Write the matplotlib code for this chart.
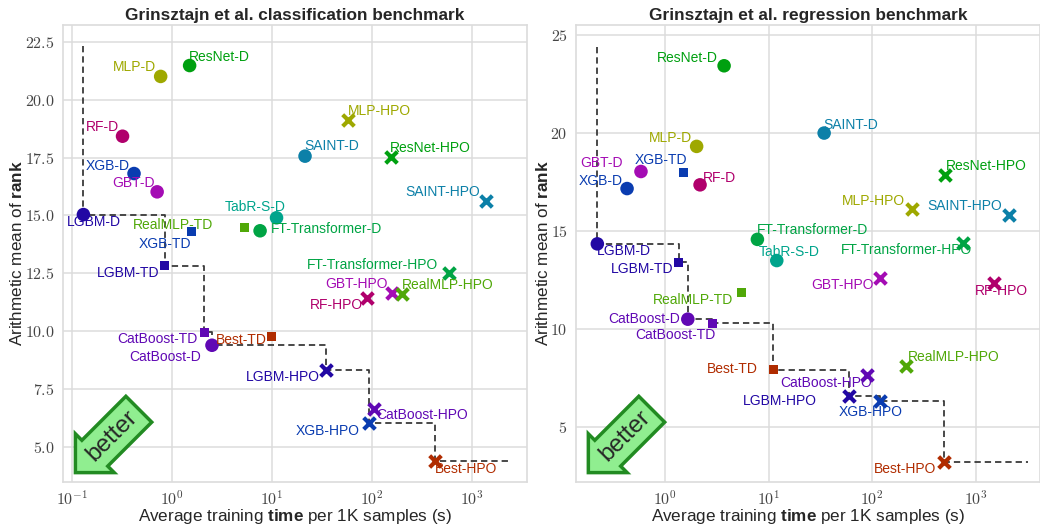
import numpy as np
import matplotlib
matplotlib.use("Agg")
import matplotlib.pyplot as plt
from matplotlib.ticker import FuncFormatter, LogLocator, NullLocator, FixedLocator

plt.rcParams['font.family'] = ['Liberation Sans', 'DejaVu Sans']
plt.rcParams['mathtext.fontset'] = 'cm'
plt.rcParams['mathtext.rm'] = 'Liberation Sans'
plt.rcParams['mathtext.bf'] = 'Liberation Sans:bold'
plt.rcParams['mathtext.it'] = 'Liberation Sans:italic'

# ---------------- data ----------------
methods = ['MLP-D', 'ResNet-D', 'RF-D', 'XGB-D', 'GBT-D', 'LGBM-D', 'CatBoost-D',
           'SAINT-D', 'TabR-S-D', 'FT-Transformer-D',
           'RealMLP-TD', 'XGB-TD', 'LGBM-TD', 'CatBoost-TD', 'Best-TD',
           'MLP-HPO', 'ResNet-HPO', 'SAINT-HPO', 'FT-Transformer-HPO', 'GBT-HPO',
           'RealMLP-HPO', 'RF-HPO', 'LGBM-HPO', 'CatBoost-HPO', 'XGB-HPO', 'Best-HPO']

cls_time = [0.77, 1.5, 0.32, 0.417, 0.71, 0.13, 2.51,
            21.4, 11.1, 7.6,
            5.3, 1.56, 0.85, 2.09, 9.9,
            57, 154, 1370, 589, 157,
            201, 90, 34.7, 105, 94, 427]
cls_rank = [21.0, 21.47, 18.42, 16.81, 16.02, 15.04, 9.4,
            17.56, 14.9, 14.34,
            14.48, 14.3, 12.83, 9.97, 9.76,
            19.14, 17.53, 15.63, 12.53, 11.66,
            11.61, 11.42, 8.32, 6.67, 6.05, 4.41]

reg_time = [2.02, 3.72, 2.18, 0.43, 0.586, 0.222, 1.66,
            34.4, 12.0, 7.8,
            5.42, 1.5, 1.36, 2.86, 11.1,
            242, 507, 2075, 762, 118,
            214, 1486, 60.4, 89, 120, 489]
reg_rank = [19.32, 23.43, 17.36, 17.17, 18.04, 14.35, 10.51,
            20.0, 13.5, 14.58,
            11.85, 18.0, 13.42, 10.31, 7.92,
            16.12, 17.87, 15.82, 14.4, 12.62,
            8.14, 12.37, 6.6, 7.67, 6.34, 3.25]

titles = ['Grinsztajn et al. classification benchmark',
          'Grinsztajn et al. regression benchmark']

# ---------------- styling ----------------
family_colors = {
    'MLP': '#9ea800', 'ResNet': '#00a010', 'RF': '#b0006c', 'XGB': '#0a3cb0',
    'GBT': '#a40cb4', 'LGBM': '#2208a4', 'CatBoost': '#6008b4', 'SAINT': '#0c80a8',
    'TabR-S': '#00a48c', 'FT-Transformer': '#00a444', 'RealMLP': '#50a808',
    'Best': '#b02c00',
}

cls_offsets = {
    'ResNet-D': (30, 9), 'MLP-D': (-26, 9), 'RF-D': (-20, 9), 'XGB-D': (-26, 8),
    'GBT-D': (-24, 9), 'LGBM-D': (10, -7), 'MLP-HPO': (32, 9), 'SAINT-D': (27, 10),
    'ResNet-HPO': (40, 9), 'SAINT-HPO': (-43, 9), 'TabR-S-D': (-21, 11),
    'FT-Transformer-D': (66, 2), 'RealMLP-TD': (-71, 3), 'XGB-TD': (-26, -12),
    'LGBM-TD': (-37, -7), 'FT-Transformer-HPO': (-76, 8), 'GBT-HPO': (-35, 9),
    'RealMLP-HPO': (45, 9), 'RF-HPO': (-31, -7), 'CatBoost-TD': (-47, -7),
    'CatBoost-D': (-47, -12), 'Best-TD': (-30, -3), 'LGBM-HPO': (-43, -7),
    'CatBoost-HPO': (48, -6), 'XGB-HPO': (-42, -8), 'Best-HPO': (31, -8),
}
reg_offsets = {
    'ResNet-D': (-37, 8), 'SAINT-D': (27, 8), 'MLP-D': (-26, 8), 'GBT-D': (-39, 8),
    'XGB-TD': (-22, 12), 'XGB-D': (-26, 8), 'RF-D': (19, 7), 'ResNet-HPO': (41, 9),
    'MLP-HPO': (-38, 8), 'SAINT-HPO': (-44, 9), 'FT-Transformer-D': (55, 9),
    'FT-Transformer-HPO': (-57, -7), 'LGBM-D': (27, -7), 'TabR-S-D': (12, 9),
    'LGBM-TD': (-37, -7), 'GBT-HPO': (-37, -7), 'RF-HPO': (8, -8),
    'RealMLP-TD': (-48, -7), 'CatBoost-D': (-44, 0), 'CatBoost-TD': (-37, -12),
    'RealMLP-HPO': (47, 9), 'Best-TD': (-41, 1), 'CatBoost-HPO': (-41, -8),
    'LGBM-HPO': (-70, -5), 'XGB-HPO': (-10, -11), 'Best-HPO': (-38, -7),
}

panels = [
    dict(time=cls_time, rank=cls_rank, title=titles[0], offsets=cls_offsets,
         xlim=(10 ** -1.09, 10 ** 3.55), ylim=(3.5, 23.22), yfmt='{:.1f}',
         yticks=[5.0, 7.5, 10.0, 12.5, 15.0, 17.5, 20.0, 22.5], end_factor=1.67,
         ylabel_x=-0.081),
    dict(time=reg_time, rank=reg_rank, title=titles[1], offsets=reg_offsets,
         xlim=(10 ** -0.86, 10 ** 3.62), ylim=(2.21, 25.51), yfmt='{:.0f}',
         yticks=[5, 10, 15, 20, 25], end_factor=1.55,
         ylabel_x=-0.054),
]

fig = plt.figure(figsize=(10.4, 5.27), dpi=100)
axes_rects = [[0.0606, 0.0854, 0.4461, 0.8672], [0.5538, 0.0854, 0.4461, 0.8672]]

grid_c = '#dcdcdc'
for rect, p in zip(axes_rects, panels):
    ax = fig.add_axes(rect)
    ax.set_facecolor('white')
    ax.set_xscale('log')
    ax.set_xlim(*p['xlim'])
    ax.set_ylim(*p['ylim'])
    for s in ax.spines.values():
        s.set_color(grid_c)
        s.set_linewidth(1.2)
    ax.grid(True, color=grid_c, linewidth=1.1, zorder=0)
    ax.set_axisbelow(True)
    ax.xaxis.set_major_locator(LogLocator(base=10, numticks=10))
    ax.xaxis.set_minor_locator(NullLocator())
    ax.xaxis.set_major_formatter(FuncFormatter(
        lambda v, pos: '$10^{%d}$' % int(round(np.log10(v)))))
    ax.yaxis.set_major_locator(FixedLocator(p['yticks']))
    fmt = p['yfmt']
    ax.yaxis.set_major_formatter(FuncFormatter(lambda v, pos, f=fmt: '$' + f.format(v) + '$'))
    ax.tick_params(length=0, labelsize=11.5, labelcolor='#444444', pad=6)
    ax.tick_params(axis='x', pad=5)

    t = np.array(p['time'])
    r = np.array(p['rank'])

    # Pareto front (computed from data)
    order = np.argsort(t)
    ft, fr = [], []
    best = np.inf
    for i in order:
        if r[i] < best:
            best = r[i]
            ft.append(t[i])
            fr.append(r[i])
    xs = [ft[0]] + ft + [t.max() * p['end_factor']]
    ys = [r.max() * 1.04] + fr + [fr[-1]]
    ax.plot(xs, ys, drawstyle='steps-post', ls=(0, (3.5, 2.2)), color='#3a3a3a',
            lw=1.3, zorder=2)

    for name, ti, ri in zip(methods, t, r):
        fam, kind = name.rsplit('-', 1)
        c = family_colors[fam]
        if kind == 'D':
            ax.scatter([ti], [ri], s=95, marker='o', color=c, edgecolors='none', zorder=3)
        elif kind == 'TD':
            ax.scatter([ti], [ri], s=42, marker='s', color=c, edgecolors='none', zorder=3)
        else:
            ax.scatter([ti], [ri], s=70, marker='x', color=c, linewidths=3, zorder=3)
        dx, dy = p['offsets'][name]
        ax.annotate(name, (ti, ri), xytext=(dx, dy), textcoords='offset pixels',
                    ha='center', va='center', color=c, fontsize=10, zorder=4)

    ax.set_title(p['title'], fontsize=12.4, fontweight='bold', color='#262626', pad=3.5)
    ax.set_xlabel(r'Average training $\mathbf{time}$ per 1K samples (s)',
                  fontsize=12.3, color='#262626', math_fontfamily='custom')
    ax.xaxis.set_label_coords(0.5, -0.054)
    ax.set_ylabel(r'Arithmetic mean of $\mathbf{rank}$', fontsize=12.3,
                  color='#262626', math_fontfamily='custom')
    ax.yaxis.set_label_coords(p['ylabel_x'], 0.5)

    ax.text(0.105, 0.10, 'better', transform=ax.transAxes, rotation=45,
            ha='center', va='center', fontsize=17.5, color='#262626',
            bbox=dict(boxstyle='larrow,pad=0.3', fc='#90ee90', ec='#228b22', lw=2.5),
            zorder=5)

fig.savefig('out.png', dpi=100)
